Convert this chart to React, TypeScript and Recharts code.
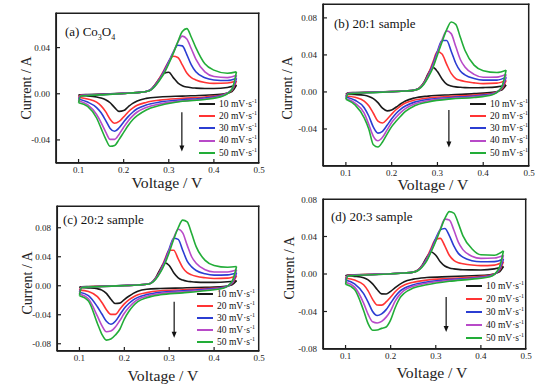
import React from 'react';
import { LineChart, Line, XAxis, YAxis, Legend, ReferenceLine } from 'recharts';

const SERIF = '"Liberation Serif", "Times New Roman", serif';

const anodicV = [0.10, 0.105, 0.12, 0.16, 0.20, 0.23, 0.25, 0.26, 0.27, 0.28, 0.29, 0.30, 0.31, 0.32, 0.33, 0.34, 0.35, 0.36, 0.38, 0.40, 0.43, 0.45];
const cathodicV = [0.45, 0.44, 0.42, 0.38, 0.33, 0.28, 0.25, 0.23, 0.22, 0.21, 0.20, 0.19, 0.18, 0.17, 0.16, 0.15, 0.14, 0.12, 0.10];
const scanRates = ['10', '20', '30', '40', '50'];
const seriesColors = ['#1a1a1a', '#ff3434', '#2b3dd2', '#b84ac8', '#22ad38'];
const voltageTicks = [0.1, 0.2, 0.3, 0.4];
const voltageLabels = [0.1, 0.2, 0.3, 0.4, 0.5];
const voltageDomain: [number, number] = [0.05, 0.5];

// (a) Co3O4
const aAnodic = [
  [-0.0012, -0.0008, -0.0006, -0.0003, 0.0003, 0.001, 0.002, 0.0035, 0.008, 0.0135, 0.0178, 0.0186, 0.014, 0.0095, 0.007, 0.0058, 0.0052, 0.0049, 0.0046, 0.0046, 0.0055, 0.0075],
  [-0.003, -0.0012, -0.0009, -0.0004, 0.0003, 0.001, 0.002, 0.0035, 0.008, 0.014, 0.021, 0.028, 0.0325, 0.0315, 0.025, 0.018, 0.014, 0.012, 0.0098, 0.009, 0.0093, 0.011],
  [-0.0045, -0.0015, -0.0011, -0.0005, 0.0003, 0.001, 0.002, 0.0035, 0.0075, 0.013, 0.020, 0.028, 0.036, 0.042, 0.0415, 0.034, 0.025, 0.019, 0.0138, 0.012, 0.0115, 0.0135],
  [-0.006, -0.0018, -0.0013, -0.0006, 0.0003, 0.001, 0.002, 0.0033, 0.007, 0.0125, 0.019, 0.027, 0.036, 0.0445, 0.050, 0.0475, 0.039, 0.030, 0.019, 0.015, 0.014, 0.016],
  [-0.0078, -0.002, -0.0015, -0.0007, 0.0002, 0.001, 0.002, 0.0032, 0.0068, 0.012, 0.018, 0.026, 0.035, 0.045, 0.054, 0.0565, 0.049, 0.040, 0.026, 0.0205, 0.0178, 0.019],
];
const aCathodic = [
  [0.0075, 0.002, -0.0003, -0.0013, -0.002, -0.0028, -0.004, -0.0062, -0.0083, -0.0113, -0.0146, -0.0153, -0.012, -0.0078, -0.0052, -0.0036, -0.0028, -0.0018, -0.0012],
  [0.011, 0.003, -0.0008, -0.0028, -0.004, -0.0055, -0.0075, -0.010, -0.0125, -0.0158, -0.020, -0.024, -0.0255, -0.022, -0.0155, -0.0105, -0.0072, -0.0045, -0.003],
  [0.0135, 0.0035, -0.001, -0.0036, -0.0052, -0.0072, -0.0097, -0.013, -0.016, -0.0198, -0.0245, -0.0295, -0.0325, -0.030, -0.023, -0.0165, -0.012, -0.0072, -0.0045],
  [0.016, 0.004, -0.0015, -0.0045, -0.0062, -0.0088, -0.0118, -0.0158, -0.0192, -0.0235, -0.029, -0.035, -0.0395, -0.0395, -0.033, -0.025, -0.018, -0.0095, -0.006],
  [0.019, 0.004, -0.002, -0.005, -0.0065, -0.0102, -0.014, -0.019, -0.0225, -0.0275, -0.0335, -0.0395, -0.0448, -0.0455, -0.039, -0.030, -0.021, -0.011, -0.0078],
];

// (b) 20:1 sample
const bAnodic = [
  [-0.0025, -0.0008, -0.0006, -0.0003, 0.0003, 0.001, 0.002, 0.004, 0.010, 0.020, 0.0265, 0.022, 0.014, 0.0085, 0.0065, 0.0055, 0.005, 0.0047, 0.0045, 0.0047, 0.0055, 0.0075],
  [-0.0043, -0.0012, -0.0009, -0.0004, 0.0003, 0.001, 0.002, 0.004, 0.0095, 0.019, 0.032, 0.0435, 0.041, 0.030, 0.020, 0.0145, 0.0125, 0.0112, 0.0098, 0.009, 0.0095, 0.0125],
  [-0.0054, -0.0015, -0.001, -0.0005, 0.0003, 0.001, 0.002, 0.0038, 0.009, 0.018, 0.030, 0.044, 0.0555, 0.0555, 0.044, 0.031, 0.0225, 0.0185, 0.0145, 0.0128, 0.0128, 0.016],
  [-0.0072, -0.0018, -0.0012, -0.0006, 0.0003, 0.001, 0.002, 0.0036, 0.0085, 0.017, 0.028, 0.042, 0.056, 0.066, 0.063, 0.049, 0.035, 0.027, 0.019, 0.0158, 0.016, 0.019],
  [-0.0078, -0.002, -0.0014, -0.0007, 0.0002, 0.001, 0.002, 0.0034, 0.008, 0.016, 0.026, 0.040, 0.054, 0.067, 0.0755, 0.073, 0.059, 0.045, 0.029, 0.023, 0.021, 0.0235],
];
const bCathodic = [
  [0.0075, 0.002, -0.0005, -0.0018, -0.003, -0.0045, -0.0065, -0.0098, -0.0128, -0.0163, -0.0195, -0.0204, -0.0175, -0.0115, -0.0072, -0.0048, -0.0036, -0.0028, -0.0025],
  [0.0125, 0.003, -0.0015, -0.0033, -0.0048, -0.0065, -0.0088, -0.012, -0.015, -0.019, -0.024, -0.0295, -0.0335, -0.0315, -0.023, -0.015, -0.0098, -0.0058, -0.0043],
  [0.016, 0.004, -0.002, -0.0043, -0.006, -0.008, -0.011, -0.0152, -0.0185, -0.023, -0.029, -0.036, -0.0425, -0.0445, -0.038, -0.026, -0.017, -0.009, -0.0054],
  [0.019, 0.0045, -0.0025, -0.0052, -0.0068, -0.0095, -0.013, -0.018, -0.022, -0.027, -0.033, -0.041, -0.049, -0.0528, -0.048, -0.035, -0.023, -0.012, -0.0072],
  [0.0235, 0.005, -0.003, -0.006, -0.0075, -0.0108, -0.015, -0.021, -0.026, -0.0315, -0.0375, -0.0455, -0.054, -0.0595, -0.057, -0.040, -0.028, -0.014, -0.0078],
];

// (c) 20:2 sample
const cAnodic = [
  [-0.0023, -0.0014, -0.001, -0.0005, 0.0003, 0.001, 0.002, 0.004, 0.011, 0.023, 0.0315, 0.028, 0.018, 0.011, 0.0078, 0.0062, 0.0055, 0.005, 0.0046, 0.0046, 0.0055, 0.007],
  [-0.006, -0.0018, -0.0013, -0.0006, 0.0003, 0.001, 0.002, 0.004, 0.0105, 0.021, 0.036, 0.049, 0.049, 0.037, 0.025, 0.018, 0.015, 0.013, 0.011, 0.010, 0.0105, 0.0138],
  [-0.009, -0.002, -0.0015, -0.0007, 0.0003, 0.001, 0.002, 0.004, 0.010, 0.020, 0.034, 0.051, 0.0655, 0.064, 0.049, 0.034, 0.026, 0.021, 0.0165, 0.0147, 0.015, 0.018],
  [-0.0115, -0.0022, -0.0016, -0.0008, 0.0003, 0.001, 0.002, 0.0038, 0.0095, 0.019, 0.032, 0.049, 0.066, 0.078, 0.073, 0.056, 0.040, 0.031, 0.022, 0.019, 0.019, 0.022],
  [-0.0137, -0.0025, -0.0018, -0.0009, 0.0002, 0.001, 0.002, 0.0036, 0.009, 0.018, 0.030, 0.046, 0.064, 0.080, 0.0905, 0.088, 0.072, 0.054, 0.035, 0.028, 0.0255, 0.0266],
];
const cCathodic = [
  [0.007, 0.0015, -0.0012, -0.0022, -0.003, -0.0038, -0.0048, -0.0075, -0.0105, -0.0145, -0.019, -0.024, -0.0245, -0.0185, -0.0105, -0.006, -0.0042, -0.003, -0.0023],
  [0.0138, 0.003, -0.002, -0.0038, -0.0055, -0.007, -0.0095, -0.0125, -0.0155, -0.0195, -0.025, -0.0325, -0.0395, -0.0395, -0.033, -0.023, -0.015, -0.008, -0.006],
  [0.018, 0.004, -0.0025, -0.0048, -0.007, -0.009, -0.0122, -0.016, -0.0195, -0.0245, -0.031, -0.040, -0.049, -0.0532, -0.049, -0.039, -0.029, -0.0135, -0.009],
  [0.022, 0.005, -0.003, -0.0058, -0.0085, -0.0108, -0.0145, -0.019, -0.0235, -0.030, -0.038, -0.048, -0.057, -0.0625, -0.0635, -0.055, -0.042, -0.018, -0.0115],
  [0.0266, 0.006, -0.0035, -0.0068, -0.0098, -0.0125, -0.0165, -0.022, -0.0275, -0.0355, -0.046, -0.060, -0.068, -0.0735, -0.075, -0.067, -0.052, -0.021, -0.0137],
];

// (d) 20:3 sample
const dAnodic = [
  [-0.0018, -0.001, -0.0008, -0.0004, 0.0003, 0.001, 0.002, 0.004, 0.0095, 0.018, 0.0235, 0.020, 0.013, 0.0085, 0.0065, 0.0055, 0.0049, 0.0046, 0.0044, 0.0043, 0.0055, 0.008],
  [-0.0046, -0.0014, -0.001, -0.0005, 0.0003, 0.001, 0.002, 0.004, 0.009, 0.017, 0.028, 0.037, 0.038, 0.030, 0.020, 0.0145, 0.012, 0.011, 0.0096, 0.0089, 0.0095, 0.013],
  [-0.0064, -0.0016, -0.0012, -0.0006, 0.0003, 0.001, 0.002, 0.0038, 0.0085, 0.016, 0.026, 0.038, 0.047, 0.0485, 0.041, 0.030, 0.022, 0.018, 0.0142, 0.013, 0.0132, 0.016],
  [-0.0089, -0.0019, -0.0014, -0.0007, 0.0003, 0.001, 0.002, 0.0036, 0.008, 0.015, 0.025, 0.036, 0.048, 0.0585, 0.0575, 0.047, 0.034, 0.026, 0.019, 0.0167, 0.017, 0.020],
  [-0.011, -0.0022, -0.0016, -0.0008, 0.0002, 0.001, 0.002, 0.0034, 0.0075, 0.014, 0.024, 0.035, 0.047, 0.059, 0.0665, 0.065, 0.054, 0.041, 0.027, 0.0205, 0.020, 0.0246],
];
const dCathodic = [
  [0.008, 0.002, -0.0008, -0.0018, -0.0028, -0.0038, -0.0055, -0.0082, -0.011, -0.0145, -0.0185, -0.0213, -0.0212, -0.0165, -0.0105, -0.0062, -0.004, -0.0025, -0.0018],
  [0.013, 0.003, -0.0015, -0.0033, -0.0048, -0.0065, -0.0088, -0.0118, -0.0145, -0.019, -0.0245, -0.0298, -0.0332, -0.033, -0.027, -0.018, -0.0115, -0.0065, -0.0046],
  [0.016, 0.004, -0.002, -0.0042, -0.006, -0.0085, -0.0115, -0.0152, -0.0185, -0.024, -0.031, -0.038, -0.0425, -0.0443, -0.040, -0.030, -0.021, -0.0105, -0.0064],
  [0.020, 0.005, -0.0025, -0.0048, -0.0068, -0.0098, -0.013, -0.0175, -0.022, -0.029, -0.039, -0.046, -0.0505, -0.0522, -0.051, -0.043, -0.031, -0.014, -0.0089],
  [0.0246, 0.006, -0.003, -0.0055, -0.0078, -0.0115, -0.015, -0.0205, -0.026, -0.036, -0.049, -0.0565, -0.058, -0.0598, -0.060, -0.053, -0.039, -0.0165, -0.011],
];

const ticks2 = [-0.04, 0, 0.04];
const ticks3 = [-0.04, 0, 0.04, 0.08];
const ticks5 = [-0.08, -0.04, 0, 0.04, 0.08];

type Frame = { l: number; r: number; t: number; b: number };
type PanelProps = {
  frame: Frame;
  yDomain: [number, number];
  yTicks: number[];
  anodic: number[][];
  cathodic: number[][];
  arrow: { x: number; y1: number; y2: number };
  legendAt: { x: number; y: number; gap: number };
};

const YW = 44;
const XH = 26;
const MT = 4;
const MR = 6;
const AXIS_COLOR = '#1e1e1e';
const TICK_PX = 4;

const arrowShape = (p: any) => (
  <g>
    <line x1={p.x1} y1={p.y1} x2={p.x2} y2={p.y2 - 4} stroke="#111" strokeWidth={1.2} />
    <polygon points={`${p.x2 - 2.5},${p.y2 - 6} ${p.x2 + 2.5},${p.y2 - 6} ${p.x2},${p.y2}`} fill="#111" />
  </g>
);
const edgeShape = (p: any) => (
  <g>
    <line x1={p.x1} y1={p.y1} x2={p.x2} y2={p.y2} stroke={AXIS_COLOR} strokeWidth={1.5} strokeLinecap="square" />
  </g>
);
const tickShape = (p: any) => (
  <g>
    <line x1={p.x1} y1={p.y1} x2={p.x2} y2={p.y2} stroke={AXIS_COLOR} strokeWidth={1.2} />
  </g>
);

const makeLegend = (gap: number) => (props: any) => {
  const items = ((props.payload || []) as any[]).filter((p) => p.type !== 'none' && !String(p.value).endsWith('c'));
  return (
    <div style={{ fontFamily: SERIF, fontSize: 9.5, color: '#111', lineHeight: `${gap}px` }}>
      {items.map((p, i) => (
        <div key={i} style={{ height: gap, display: 'flex', alignItems: 'center', whiteSpace: 'nowrap' }}>
          <span style={{ display: 'inline-block', width: 16, height: 0, borderTop: `2px solid ${p.color}`, marginRight: 4 }} />
          <span>
            {p.value} mV·s<sup style={{ fontSize: 6, lineHeight: 0 }}>-1</sup>
          </span>
        </div>
      ))}
    </div>
  );
};

function Panel({ frame, yDomain, yTicks, anodic, cathodic, arrow, legendAt }: PanelProps) {
  const left = frame.l - YW;
  const top = frame.t - MT;
  const plotW = frame.r - frame.l;
  const plotH = frame.b - frame.t;
  const width = plotW + YW + MR;
  const height = plotH + MT + XH;
  const [x0, x1] = voltageDomain;
  const [y0, y1] = yDomain;
  const pxY = (y1 - y0) / plotH;
  const pxX = (x1 - x0) / plotW;
  const ex0 = x0 + pxX * 0.3;
  const ex1 = x1 - pxX * 0.3;
  const ey0 = y0 + pxY * 0.3;
  const ey1 = y1 - pxY * 0.3;
  const tickStyle = { fontSize: 9, fontFamily: SERIF, fill: '#222' };
  const lines = anodic.flatMap((vals, i) => [
    <Line
      key={`an${i}`}
      data={anodicV.map((v, j) => ({ v, c: vals[j] }))}
      dataKey="c"
      name={scanRates[i]}
      stroke={seriesColors[i]}
      strokeWidth={1.6}
      dot={false}
      activeDot={false}
      type="monotone"
      legendType="line"
      isAnimationActive={false}
    />,
    <Line
      key={`ca${i}`}
      data={cathodicV.map((v, j) => ({ v, c: cathodic[i][j] })).reverse()}
      dataKey="c"
      name={`${scanRates[i]}c`}
      stroke={seriesColors[i]}
      strokeWidth={1.6}
      dot={false}
      activeDot={false}
      type="monotone"
      legendType="none"
      isAnimationActive={false}
    />,
  ]);
  return (
    <div style={{ position: 'absolute', left, top }}>
      <LineChart width={width} height={height} margin={{ top: MT, right: MR, bottom: 0, left: 0 }}>
        <XAxis
          type="number"
          dataKey="v"
          domain={voltageDomain}
          ticks={voltageLabels}
          tickFormatter={(v: number) => v.toFixed(1)}
          height={XH}
          tickSize={-4}
          tickMargin={8}
          tick={tickStyle}
          axisLine={{ stroke: AXIS_COLOR, strokeWidth: 1.5 }}
          tickLine={false}
          allowDataOverflow
        />
        <YAxis
          type="number"
          domain={yDomain}
          ticks={yTicks}
          tickFormatter={(v: number) => v.toFixed(2)}
          width={YW}
          tickSize={-4}
          tickMargin={10}
          tick={tickStyle}
          axisLine={{ stroke: AXIS_COLOR, strokeWidth: 1.5 }}
          tickLine={false}
          allowDataOverflow
        />
        {lines}
        <ReferenceLine segment={[{ x: ex0, y: ey0 }, { x: ex1, y: ey0 }]} shape={edgeShape} ifOverflow="visible" />
        <ReferenceLine segment={[{ x: ex0, y: ey1 }, { x: ex1, y: ey1 }]} shape={edgeShape} ifOverflow="visible" />
        <ReferenceLine segment={[{ x: ex0, y: ey0 }, { x: ex0, y: ey1 }]} shape={edgeShape} ifOverflow="visible" />
        <ReferenceLine segment={[{ x: ex1, y: ey0 }, { x: ex1, y: ey1 }]} shape={edgeShape} ifOverflow="visible" />
        {voltageTicks.map((t) => (
          <ReferenceLine
            key={`xt${t}`}
            segment={[{ x: t, y: ey0 }, { x: t, y: y0 + pxY * TICK_PX }]}
            shape={tickShape}
            ifOverflow="visible"
          />
        ))}
        {yTicks
          .filter((t) => t > y0 && t < y1)
          .map((t) => (
            <ReferenceLine
              key={`yt${t}`}
              segment={[{ x: ex0, y: t }, { x: x0 + pxX * TICK_PX, y: t }]}
              shape={tickShape}
              ifOverflow="visible"
            />
          ))}
        <ReferenceLine segment={[{ x: arrow.x, y: arrow.y1 }, { x: arrow.x, y: arrow.y2 }]} shape={arrowShape} ifOverflow="visible" />
        <Legend
          layout="vertical"
          align="center"
          verticalAlign="middle"
          wrapperStyle={{ left: legendAt.x - left, top: legendAt.y - top - legendAt.gap / 2, width: 72, height: legendAt.gap * 5 }}
          content={makeLegend(legendAt.gap)}
        />
      </LineChart>
    </div>
  );
}

const textBase: React.CSSProperties = { position: 'absolute', fontFamily: SERIF, color: '#222', whiteSpace: 'nowrap' };

function XTitle({ cx, cy }: { cx: number; cy: number }) {
  return (
    <div style={{ ...textBase, left: cx - 60, top: cy - 9, width: 120, textAlign: 'center', fontSize: 14, lineHeight: '18px', transform: 'scaleX(1.12)' }}>
      Voltage / V
    </div>
  );
}
function YTitle({ cx, cy }: { cx: number; cy: number }) {
  return (
    <div style={{ ...textBase, left: cx - 50, top: cy - 9, width: 100, textAlign: 'center', fontSize: 14, lineHeight: '18px', transform: 'rotate(-90deg)' }}>
      Current / A
    </div>
  );
}
function Tag({ x, cy, children }: { x: number; cy: number; children: React.ReactNode }) {
  return (
    <div style={{ ...textBase, left: x, top: cy - 8, fontSize: 13, lineHeight: '16px', color: '#111' }}>{children}</div>
  );
}

export default function App() {
  return (
    <div style={{ position: 'absolute', left: 0, top: 0, width: 554, height: 387, background: '#fff', overflow: 'hidden' }}>
      <Panel
        frame={{ l: 56, r: 259, t: 13, b: 163 }}
        yDomain={[-0.06, 0.07]}
        yTicks={ticks2}
        anodic={aAnodic}
        cathodic={aCathodic}
        arrow={{ x: 0.329, y1: -0.016, y2: -0.05 }}
        legendAt={{ x: 199, y: 104, gap: 12.2 }}
      />
      <Panel
        frame={{ l: 323, r: 529, t: 4, b: 166 }}
        yDomain={[-0.08, 0.095]}
        yTicks={ticks3}
        anodic={bAnodic}
        cathodic={bCathodic}
        arrow={{ x: 0.325, y1: -0.0196, y2: -0.06 }}
        legendAt={{ x: 470, y: 104, gap: 12.2 }}
      />
      <Panel
        frame={{ l: 57, r: 259, t: 206, b: 351 }}
        yDomain={[-0.09, 0.11]}
        yTicks={ticks5}
        anodic={cAnodic}
        cathodic={cCathodic}
        arrow={{ x: 0.311, y1: -0.022, y2: -0.0717 }}
        legendAt={{ x: 197, y: 294, gap: 12 }}
      />
      <Panel
        frame={{ l: 323, r: 526, t: 199, b: 349 }}
        yDomain={[-0.08, 0.08]}
        yTicks={ticks5}
        anodic={dAnodic}
        cathodic={dCathodic}
        arrow={{ x: 0.323, y1: -0.0245, y2: -0.0619 }}
        legendAt={{ x: 466, y: 286, gap: 13 }}
      />
      <XTitle cx={167} cy={184} />
      <XTitle cx={433} cy={186} />
      <XTitle cx={163} cy={377} />
      <XTitle cx={432} cy={374} />
      <YTitle cx={27} cy={88} />
      <YTitle cx={288} cy={88} />
      <YTitle cx={28} cy={283} />
      <YTitle cx={290} cy={268} />
      <Tag x={65} cy={32}>(a) Co<sub style={{ fontSize: 8 }}>3</sub>O<sub style={{ fontSize: 8 }}>4</sub></Tag>
      <Tag x={334} cy={24}>(b) 20:1 sample</Tag>
      <Tag x={63} cy={220}>(c) 20:2 sample</Tag>
      <Tag x={331} cy={217}>(d) 20:3 sample</Tag>
    </div>
  );
}
